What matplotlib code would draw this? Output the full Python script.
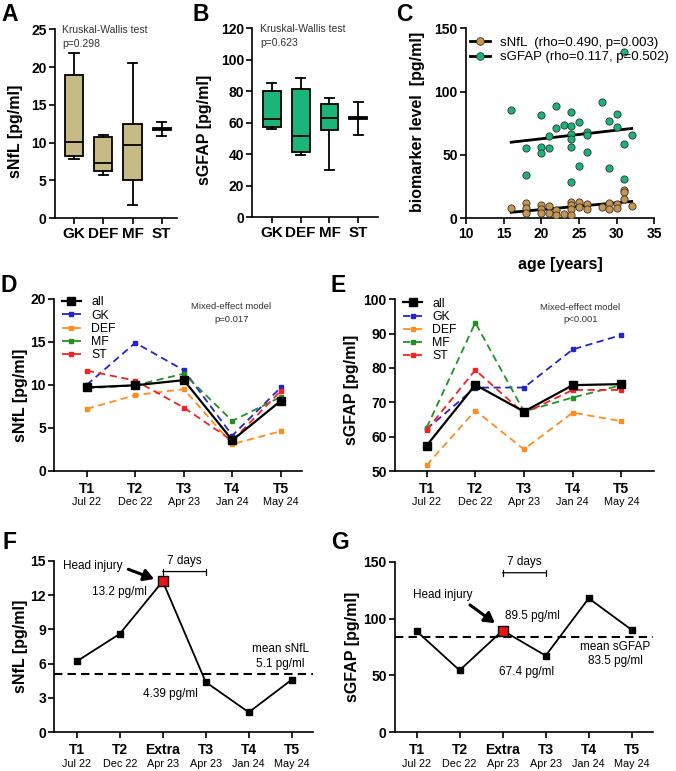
import numpy as np
import matplotlib
matplotlib.use("Agg")
import matplotlib.pyplot as plt
from matplotlib.lines import Line2D

plt.rcParams['font.family'] = ['Liberation Sans', 'DejaVu Sans']
plt.rcParams['axes.linewidth'] = 1.2

# ---- data -----------------------------------------------------------------
positions = ["GK", "DEF", "MF", "ST"]

# box stats: whislo, q1, med, q3, whishi
nfl_box = {
    "GK":  [7.8, 8.2, 10.1, 19.0, 21.9],
    "DEF": [5.7, 6.3, 7.3, 10.7, 11.0],
    "MF":  [1.7, 5.1, 9.7, 12.5, 20.6],
    "ST":  [10.9, 11.65, 11.8, 11.95, 12.7],
}
gfap_box = {
    "GK":  [56.1, 57.4, 62.4, 80.0, 85.3],
    "DEF": [39.4, 41.3, 51.6, 81.3, 88.3],
    "MF":  [30.0, 55.7, 62.9, 71.7, 75.6],
    "ST":  [52.1, 62.2, 62.9, 63.6, 73.0],
}

# panel C: age vs biomarker
age_nfl = [16, 18, 18, 18, 20, 20, 20, 21, 21, 22, 22, 23, 24, 24, 24, 24,
           25, 25, 26, 26, 28, 29, 29, 30, 30, 31, 31, 31, 32]
val_nfl = [8.0, 11.7, 8.0, 3.9, 10.8, 7.0, 3.9, 9.8, 4.4, 6.5, 2.6, 3.7, 13.0, 10.3, 7.0, 2.3,
           13.0, 8.6, 11.4, 7.5, 9.0, 11.7, 7.0, 11.2, 7.9, 22.3, 20.5, 15.5, 9.7]
age_gfap = [16, 18, 18, 20, 20, 20, 21, 21, 22, 22, 23, 24, 24, 24, 24, 24, 24,
            25, 25, 26, 26, 26, 28, 29, 29, 30, 30, 31, 31, 31, 32]
val_gfap = [85.5, 55.7, 33.9, 81.3, 56.5, 51.8, 65.2, 55.7, 88.9, 71.5, 73.9, 83.7, 73.1, 66.8, 62.8, 55.9, 28.9,
            76.0, 41.0, 68.4, 65.6, 52.6, 92.0, 76.8, 39.7, 82.3, 71.8, 131.0, 58.9, 30.8, 65.7]

# panels D/E: longitudinal means by position
timepoints = ["T1", "T2", "T3", "T4", "T5"]
dates = ["Jul 22", "Dec 22", "Apr 23", "Jan 24", "May 24"]
groups = ["all", "GK", "DEF", "MF", "ST"]
nfl_time = {
    "all": [9.7, 9.95, 10.55, 3.55, 8.15],
    "GK":  [10.0, 14.9, 11.7, 4.1, 9.7],
    "DEF": [7.2, 8.8, 9.5, 3.1, 4.6],
    "MF":  [9.6, 9.95, 11.3, 5.8, 8.6],
    "ST":  [11.65, 10.5, 7.35, 3.5, 9.3],
}
gfap_time = {
    "all": [57.4, 75.1, 67.3, 75.0, 75.3],
    "GK":  [62.2, 74.3, 74.3, 85.4, 89.6],
    "DEF": [51.7, 67.6, 56.3, 67.0, 64.5],
    "MF":  [62.6, 93.2, 67.3, 71.4, 75.0],
    "ST":  [61.9, 79.4, 66.8, 73.6, 73.6],
}

# panels F/G: single player with head injury
case_tp = ["T1", "T2", "Extra", "T3", "T4", "T5"]
case_dates = ["Jul 22", "Dec 22", "Apr 23", "Apr 23", "Jan 24", "May 24"]
case_nfl = [6.2, 8.6, 13.2, 4.39, 1.75, 4.6]
case_gfap = [89.0, 54.5, 89.5, 67.4, 117.8, 90.0]
mean_nfl = 5.1
mean_gfap = 83.5
injury_idx = 2

# ---- styling --------------------------------------------------------------
C_NFL_BOX = "#c6bb84"
C_GFAP_BOX = "#1bb57a"
C_NFL_DOT = "#c8964e"
C_GFAP_DOT = "#1ab37a"
grp_colors = {"all": "black", "GK": "#2424c8", "DEF": "#ff8c1f", "MF": "#239023", "ST": "#f52222"}

TICK_FS = 10
LAB_FS = 11.5
W, H = 676, 771


def px_axes(l, t, r, b):
    return fig.add_axes([l / W, 1 - b / H, (r - l) / W, (b - t) / H])


def style(ax):
    ax.spines["top"].set_visible(False)
    ax.spines["right"].set_visible(False)
    ax.tick_params(direction="out", length=4, width=1.2, labelsize=TICK_FS, pad=2)
    for lab in ax.get_yticklabels() + ax.get_xticklabels():
        lab.set_fontweight("bold")


def panel_letter(x, y, s):
    fig.text(x / W, 1 - y / H, s, fontsize=16.5, fontweight="bold", va="top", ha="left")


fig = plt.figure(figsize=(W / 100, H / 100), dpi=100)


def box_panel(ax, data, color, ylim, yticks, ylabel, ptext, xlim, lab_x):
    stats = []
    for p in positions:
        lo, q1, med, q3, hi = data[p]
        stats.append(dict(whislo=lo, q1=q1, med=med, q3=q3, whishi=hi, fliers=[], label=p))
    ax.bxp(stats, positions=range(len(positions)), widths=0.62, capwidths=0.32,
           showfliers=False, patch_artist=True,
           boxprops=dict(facecolor=color, edgecolor="black", linewidth=1.3),
           medianprops=dict(color="black", linewidth=1.3),
           whiskerprops=dict(color="black", linewidth=1.3),
           capprops=dict(color="black", linewidth=1.3))
    ax.set_ylim(*ylim)
    ax.set_yticks(yticks)
    ax.set_xlim(*xlim)
    style(ax)
    ax.set_xticks(range(len(positions)))
    ax.set_xticklabels(positions, fontsize=11, fontweight="bold")
    ax.set_ylabel(ylabel, fontsize=LAB_FS, fontweight="bold")
    ax.yaxis.set_label_coords(lab_x, 0.46)
    ax.text(0.06, 0.995, "Kruskal-Wallis test", transform=ax.transAxes, fontsize=7.5,
            color="#333333", va="center")
    ax.text(0.06, 0.92, ptext, transform=ax.transAxes, fontsize=7.5, color="#333333", va="center")


# A
axA = px_axes(55, 29.3, 177, 218.3)
box_panel(axA, nfl_box, C_NFL_BOX, (0, 25), range(0, 26, 5), "sNfL [pg/ml]", "p=0.298",
          (-0.65, 3.52), -0.26)
panel_letter(1, 3, "A")

# B
axB = px_axes(252.3, 28.3, 378.3, 217.3)
box_panel(axB, gfap_box, C_GFAP_BOX, (0, 120), range(0, 121, 20), "sGFAP [pg/ml]", "p=0.623",
          (-0.67, 3.69), -0.32)
panel_letter(192, 3, "B")

# C
axC = px_axes(466, 28.3, 654.3, 218.3)
for ages, vals, col in [(age_nfl, val_nfl, C_NFL_DOT), (age_gfap, val_gfap, C_GFAP_DOT)]:
    k, b0 = np.polyfit(ages, vals, 1)
    xs = np.array([min(ages), max(ages)])
    axC.plot(xs, k * xs + b0, color="black", lw=2.0, zorder=2)
    axC.scatter(ages, vals, s=27, color=col, edgecolor="#333333", linewidth=0.6, zorder=3)
axC.set_xlim(10, 35)
axC.set_ylim(0, 150)
axC.set_xticks(range(10, 36, 5))
axC.set_yticks([0, 50, 100, 150])
style(axC)
axC.set_xlabel("age [years]", fontsize=LAB_FS, fontweight="bold", labelpad=12)
axC.set_ylabel("biomarker level  [pg/ml]", fontsize=LAB_FS, fontweight="bold")
axC.yaxis.set_label_coords(-0.22, 0.51)
hC = [Line2D([], [], color="black", lw=2, marker="o", ms=5.5, mfc=c, mec="#333333", mew=0.6)
      for c in (C_NFL_DOT, C_GFAP_DOT)]
axC.legend(hC, ["sNfL  (rho=0.490, p=0.003)", "sGFAP (rho=0.117, p=0.502)"],
           loc="upper left", bbox_to_anchor=(0.02, 0.955), frameon=False, fontsize=9.5,
           handlelength=1.5, handletextpad=0.8, labelspacing=0.15, borderpad=0, borderaxespad=0)
panel_letter(396, 3, "C")


def time_panel(ax, series, ylim, yticks, ylabel, ptext, xlim, lab_x, lab_y, leg_x, leg_y):
    x = np.arange(len(timepoints))
    for g in groups:
        if g == "all":
            ax.plot(x, series[g], color="black", lw=1.6, marker="s", ms=6, zorder=5, label=g)
        else:
            ax.plot(x, series[g], color=grp_colors[g], lw=1.3, ls=(0, (4, 2.5)), marker="s",
                    ms=2.5, zorder=3, label=g)
    ax.set_ylim(*ylim)
    ax.set_yticks(yticks)
    ax.set_xlim(*xlim)
    style(ax)
    ax.set_xticks(x)
    ax.set_xticklabels(timepoints, fontsize=10, fontweight="bold")
    ax.tick_params(axis="x", pad=4)
    for i, d in enumerate(dates):
        ax.annotate(d, xy=(i, 0), xycoords=("data", "axes fraction"), xytext=(0, -22.5),
                    textcoords="offset points", ha="center", va="center", fontsize=7.8)
    ax.set_ylabel(ylabel, fontsize=LAB_FS, fontweight="bold")
    ax.yaxis.set_label_coords(lab_x, lab_y)
    ax.legend(loc="upper left", bbox_to_anchor=(leg_x, leg_y), frameon=False, fontsize=8.8,
              handlelength=1.6, handletextpad=0.8, labelspacing=0.1, borderpad=0, borderaxespad=0)
    ax.text(0.715, 0.955, "Mixed-effect model", transform=ax.transAxes, fontsize=6.8,
            ha="center", va="center", color="#333333")
    ax.text(0.715, 0.88, ptext, transform=ax.transAxes, fontsize=6.8,
            ha="center", va="center", color="#333333")


# D
axD = px_axes(54.3, 299, 301.7, 470.7)
time_panel(axD, nfl_time, (0, 20), range(0, 21, 5), "sNfL [pg/ml]", "p=0.017",
           (-0.67, 4.43), -0.105, 0.44, 0.03, 1.015)
panel_letter(1, 274, "D")

# E
axE = px_axes(395, 299.3, 654, 471)
time_panel(axE, gfap_time, (50, 100), range(50, 101, 10), "sGFAP [pg/ml]", "p<0.001",
           (-0.65, 4.67), -0.14, 0.47, 0.03, 1.01)
panel_letter(331, 274, "E")


def case_panel(ax, vals, mean, ylim, yticks, ylabel, xlim, lab_x, notes):
    x = np.arange(len(case_tp))
    ax.plot(x, vals, color="black", lw=1.3, marker="s", ms=5, zorder=4)
    ax.plot(x[injury_idx], vals[injury_idx], marker="s", ms=6.5, mfc="#e8141a", mec="black",
            mew=1.0, zorder=5)
    ax.axhline(mean, color="black", lw=1.5, ls=(0, (4, 2.5)), zorder=3)
    ax.set_ylim(*ylim)
    ax.set_yticks(yticks)
    ax.set_xlim(*xlim)
    style(ax)
    ax.set_xticks(x)
    ax.set_xticklabels(case_tp, fontsize=10, fontweight="bold")
    ax.tick_params(axis="x", pad=4)
    for i, d in enumerate(case_dates):
        ax.annotate(d, xy=(i, 0), xycoords=("data", "axes fraction"), xytext=(0, -22.5),
                    textcoords="offset points", ha="center", va="center", fontsize=7.8)
    ax.set_ylabel(ylabel, fontsize=LAB_FS, fontweight="bold")
    ax.yaxis.set_label_coords(lab_x, 0.5)
    fs = 8.5
    # head injury arrow
    ax.annotate("", xy=notes["arrow_head"], xytext=notes["arrow_tail"],
                arrowprops=dict(arrowstyle="-|>,head_length=0.6,head_width=0.35", lw=2.2,
                                color="black", shrinkA=0, shrinkB=0))
    ax.text(*notes["injury_txt"], "Head injury", fontsize=fs, ha="center", va="center")
    ax.text(*notes["peak_txt"], f"{vals[injury_idx]:g} pg/ml", fontsize=fs, ha="center", va="center")
    ax.text(*notes["after_txt"], f"{vals[injury_idx + 1]:g} pg/ml", fontsize=fs, ha="center", va="center")
    # 7 days bracket
    yb = notes["bracket_y"]
    ax.annotate("", xy=(injury_idx, yb), xytext=(injury_idx + 1, yb),
                arrowprops=dict(arrowstyle="|-|,widthA=0.22,widthB=0.22", lw=0.9, color="black",
                                shrinkA=0, shrinkB=0))
    ax.text(injury_idx + 0.5, notes["days_y"], "7 days", fontsize=fs, ha="center", va="center")
    mx, my1, my2 = notes["mean_txt"]
    ax.text(mx, my1, notes["mean_name"], fontsize=fs, ha="center", va="center")
    ax.text(mx, my2, f"{mean:g} pg/ml", fontsize=fs, ha="center", va="center")


# F
axF = px_axes(54.3, 560.7, 313.3, 732.3)
case_panel(axF, case_nfl, mean_nfl, (0, 15), range(0, 16, 3), "sNfL [pg/ml]", (-0.52, 5.5), -0.1,
           dict(arrow_tail=(1.2, 14.25), arrow_head=(1.8, 13.4), injury_txt=(0.37, 14.5),
                peak_txt=(1.0, 12.3), after_txt=(2.17, 3.32), bracket_y=14.05, days_y=14.95,
                mean_txt=(4.74, 7.26, 5.97), mean_name="mean sNfL"))
panel_letter(2, 531, "F")

# G
axG = px_axes(395, 561.7, 653.3, 732.3)
case_panel(axG, case_gfap, mean_gfap, (0, 150), [0, 50, 100, 150], "sGFAP [pg/ml]", (-0.5, 5.5),
           -0.135,
           dict(arrow_tail=(1.24, 112), arrow_head=(1.82, 96), injury_txt=(0.62, 120.7),
                peak_txt=(2.7, 102.3), after_txt=(2.56, 53.3), bracket_y=140.3, days_y=150,
                mean_txt=(4.61, 75.3, 62.7), mean_name="mean sGFAP"))
panel_letter(331, 531, "G")

fig.savefig("out.png", dpi=100)
